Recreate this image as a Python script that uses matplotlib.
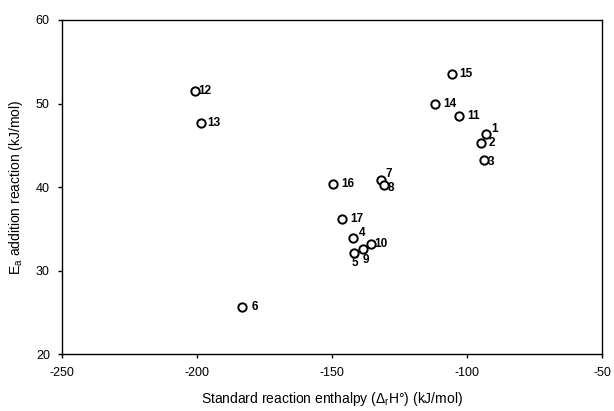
import matplotlib
matplotlib.use("Agg")
from matplotlib import pyplot as plt

plt.rcParams['font.family'] = ['Liberation Sans', 'DejaVu Sans']
plt.rcParams['mathtext.default'] = 'regular'

# reaction number, standard reaction enthalpy (kJ/mol), Ea addition (kJ/mol)
labels = ['1', '2', '3', '4', '5', '6', '7', '8', '9', '10',
          '11', '12', '13', '14', '15', '16', '17']
dH = [-93.1, -94.9, -93.9, -142.3, -142.0, -183.3, -132.0, -130.9, -138.6, -135.8,
      -103.0, -200.9, -198.7, -112.0, -105.6, -149.6, -146.3]
Ea = [46.4, 45.3, 43.3, 33.9, 32.1, 25.6, 40.8, 40.2, 32.6, 33.2,
      48.5, 51.5, 47.7, 49.9, 53.5, 40.4, 36.2]

xticks = [-250, -200, -150, -100, -50]
yticks = [20, 30, 40, 50, 60]

# label offsets in pixels (dx, dy)
offs = {'1': (5, 5), '2': (8, 0), '3': (4, -2), '4': (6, 5), '5': (-2, -10),
        '6': (9, 0), '7': (5, 6), '8': (4, -3), '9': (0, -11), '10': (4, 0),
        '11': (8, 0), '12': (3, 0), '13': (6, 0), '14': (8, 0), '15': (7, 0),
        '16': (8, 0), '17': (8, 0)}

fig = plt.figure(figsize=(6.14, 4.11), dpi=100)
ax = fig.add_axes([0.1015, 0.138, 0.8795, 0.8135])

ax.scatter(dH, Ea, s=36, facecolors='white', edgecolors='black', linewidths=1.4, zorder=3)
for lab, x, y in zip(labels, dH, Ea):
    dx, dy = offs[lab]
    ax.annotate(lab, (x, y), xytext=(dx, dy), textcoords='offset pixels',
                ha='left', va='center', fontsize=8.5, fontweight='bold', color='black')

ax.set_xlim(-250, -50)
ax.set_ylim(20, 60)
ax.set_xticks(xticks)
ax.set_yticks(yticks)
ax.set_xticklabels([str(t) for t in xticks])
ax.tick_params(direction='out', length=3, width=1, labelsize=9, pad=6)
for s in ax.spines.values():
    s.set_linewidth(1.0)

ax.set_xlabel('Standard reaction enthalpy ($\\Delta_r$H°) (kJ/mol)', fontsize=10, labelpad=8)
ax.set_ylabel('E$_a$ addition reaction (kJ/mol)', fontsize=10, labelpad=8)

fig.savefig('out.png', dpi=100)
